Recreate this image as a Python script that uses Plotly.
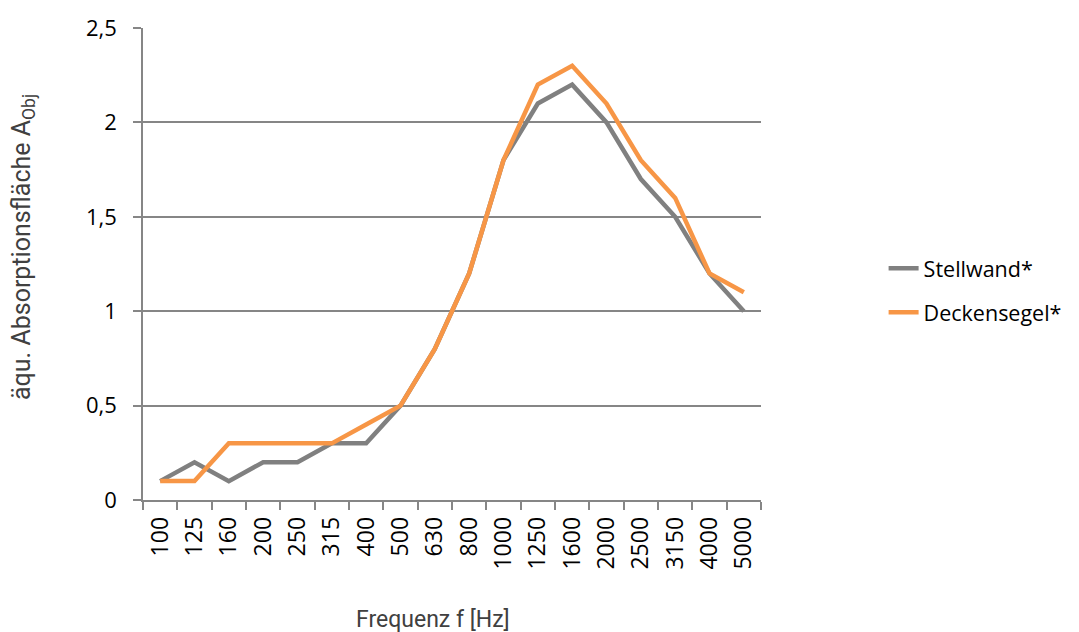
import plotly.graph_objects as go

freqs = ["100", "125", "160", "200", "250", "315", "400", "500", "630", "800",
         "1000", "1250", "1600", "2000", "2500", "3150", "4000", "5000"]
stellwand = [0.1, 0.2, 0.1, 0.2, 0.2, 0.3, 0.3, 0.5, 0.8, 1.2,
             1.8, 2.1, 2.2, 2.0, 1.7, 1.5, 1.2, 1.0]
deckensegel = [0.1, 0.1, 0.3, 0.3, 0.3, 0.3, 0.4, 0.5, 0.8, 1.2,
               1.8, 2.2, 2.3, 2.1, 1.8, 1.6, 1.2, 1.1]

fig = go.Figure()
fig.add_trace(go.Scatter(x=freqs, y=stellwand, mode="lines", name="Stellwand*",
                         line=dict(color="#808080", width=4.5), legendgroup="a"))
fig.add_trace(go.Scatter(x=freqs, y=deckensegel, mode="lines", name="Deckensegel*",
                         line=dict(color="#F79646", width=4.5), legendgroup="b"))

ytick_font = dict(family="Open Sans", size=22, color="#000000")
xtick_font = dict(family="Open Sans", size=23, color="#000000")
ytitle_font = dict(family="Liberation Sans Narrow, Roboto", size=25, color="#404040")
xtitle_font = dict(family="Liberation Sans Narrow, Roboto", size=23, color="#404040")

fig.update_layout(
    width=1079, height=632,
    margin=dict(l=143, r=316, t=25, b=132),
    plot_bgcolor="white", paper_bgcolor="white",
    separators=",.",
    showlegend=True,
    legend=dict(x=(886 - 143) / 620, y=1 - (289 - 25) / 475, xanchor="left", yanchor="middle",
                font=dict(family="Open Sans", size=21.5, color="#000000"),
                traceorder="grouped", tracegroupgap=13,
                bgcolor="rgba(0,0,0,0)", borderwidth=0),
    xaxis=dict(type="category", range=[-0.5, 17.5], tickson="boundaries",
               ticks="outside", ticklen=8, tickcolor="#868686", tickwidth=1.5,
               showline=True, linecolor="#868686", linewidth=1.5,
               showgrid=False, tickangle=-90, tickfont=xtick_font,
               ticklabelstandoff=6, fixedrange=True),
    yaxis=dict(range=[0, 2.5], dtick=0.5, tick0=0,
               ticks="outside", ticklen=8, tickcolor="#868686", tickwidth=1.5,
               showline=True, linecolor="#868686", linewidth=1.5,
               showgrid=True, gridcolor="#868686", gridwidth=1.5,
               zeroline=False, tickfont=ytick_font, ticklabelstandoff=12,
               fixedrange=True),
    annotations=[
        dict(text="äqu. Absorptionsfläche A<sub>Obj</sub>", xref="paper", yref="paper",
             x=-(143 - 22) / 620, y=1 - (245 - 25) / 475, xanchor="center", yanchor="middle",
             textangle=-90, showarrow=False, font=ytitle_font),
        dict(text="Frequenz f [Hz]", xref="paper", yref="paper",
             x=(434 - 143) / 620, y=-(620 - 500) / 475, xanchor="center", yanchor="middle",
             showarrow=False, font=xtitle_font),
    ],
)

fig.write_html("out.html", config={"displayModeBar": False},
               post_script="document.body.style.margin='0';document.body.style.overflow='hidden';")
